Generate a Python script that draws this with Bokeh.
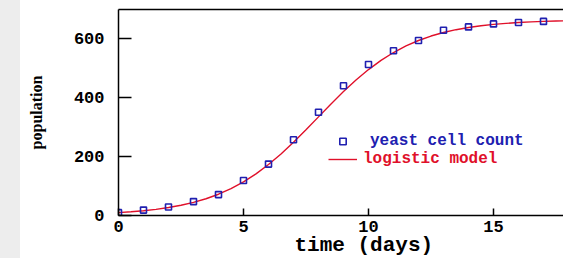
from bokeh.plotting import figure
from bokeh.models import (Range1d, FixedTicker, LinearAxis, Legend, LegendItem,
                          Title, Div)
from bokeh.layouts import row
from bokeh.embed import file_html
from bokeh.resources import INLINE

# ---- data ----
days = [0, 1, 2, 3, 4, 5, 6, 7, 8, 9, 10, 11, 12, 13, 14, 15, 16, 17]
yeast_counts = [9.6, 18.3, 29.0, 47.2, 71.1, 119.1, 174.6, 257.3, 350.7, 441.0,
                513.3, 559.7, 594.8, 629.4, 640.8, 651.1, 655.9, 659.6]
model_t = [0, 0.5, 1, 1.5, 2, 2.5, 3, 3.5, 4, 4.5, 5, 5.5, 6, 6.5, 7, 7.5, 8, 8.5,
           9, 9.5, 10, 10.5, 11, 11.5, 12, 12.5, 13, 13.5, 14, 14.5, 15, 15.5,
           16, 16.5, 17, 17.5, 18]
model_pop = [9.6, 12.5, 16.1, 20.9, 27.0, 34.7, 44.5, 56.9, 72.3, 91.2, 114.2,
             141.4, 173.2, 209.2, 248.9, 291.3, 335.1, 378.9, 421.0, 460.4,
             495.9, 527.1, 553.8, 576.3, 594.7, 609.8, 621.8, 631.4, 638.9,
             644.8, 649.3, 652.9, 655.7, 657.8, 659.5, 660.8, 661.7]
x_ticks = [0, 5, 10, 15]
y_ticks = [0, 200, 400, 600]

BLUE = "#2020b0"
RED = "#e0102a"
MONO = "Liberation Mono"

p = figure(width=543, height=258, output_backend="svg", toolbar_location=None,
           x_range=Range1d(0, 17.8), y_range=Range1d(0, 700),
           min_border_left=98, min_border_right=0, min_border_top=9,
           min_border_bottom=43, margin=0)
p.outline_line_color = None
p.grid.visible = False
p.background_fill_color = "white"
p.border_fill_color = "white"

line_r = p.line(model_t, model_pop, line_color=RED, line_width=1.4)
pts_r = p.scatter(days, yeast_counts, marker="square", size=6,
                  line_color=BLUE, fill_color=None, line_width=1.6)

# axes
xa = p.xaxis[0]
xa.ticker = FixedTicker(ticks=x_ticks)
xa.major_tick_in = 7
xa.major_tick_out = 0
xa.minor_tick_line_color = None
xa.axis_line_width = 1.5
xa.major_tick_line_width = 1.5
xa.major_label_text_font = MONO
xa.major_label_text_font_style = "bold"
xa.major_label_text_font_size = "17px"
xa.major_label_text_color = "black"
xa.major_label_standoff = 5

ya = p.yaxis[0]
ya.ticker = FixedTicker(ticks=y_ticks)
ya.major_tick_in = 13
ya.major_tick_out = 0
ya.minor_tick_line_color = None
ya.axis_line_width = 1.5
ya.major_tick_line_width = 1.5
ya.major_label_text_font = MONO
ya.major_label_text_font_style = "bold"
ya.major_label_text_font_size = "17px"
ya.major_label_text_color = "black"
ya.major_label_standoff = 14
ya.axis_label = "population"
ya.axis_label_text_font = "Liberation Serif"
ya.axis_label_text_font_style = "bold"
ya.axis_label_text_font_size = "16px"
ya.axis_label_text_color = "black"
ya.axis_label_standoff = 26

top = LinearAxis(ticker=FixedTicker(ticks=[]), axis_line_width=1.5,
                 major_tick_in=0, major_tick_out=0, minor_tick_line_color=None,
                 major_label_text_font_size="0px", major_label_standoff=0)
p.add_layout(top, "above")

xtitle = Title(text="time (days)", align="left", offset=176, standoff=-6,
               text_font=MONO, text_font_style="bold", text_font_size="21px",
               text_color="black")
p.add_layout(xtitle, "below")

leg1 = Legend(items=[LegendItem(label="yeast cell count", renderers=[pts_r])],
              location=(210, 65), label_text_color=BLUE, label_text_font=MONO,
              label_text_font_style="bold", label_text_font_size="16px",
              glyph_width=29, glyph_height=16, label_height=16,
              label_standoff=13, padding=0, margin=0, spacing=0,
              border_line_color=None, background_fill_alpha=0)
leg2 = Legend(items=[LegendItem(label="logistic model", renderers=[line_r])],
              location=(210, 47), label_text_color=RED, label_text_font=MONO,
              label_text_font_style="bold", label_text_font_size="16px",
              glyph_width=29, glyph_height=16, label_height=16,
              label_standoff=6, padding=0, margin=0, spacing=0,
              border_line_color=None, background_fill_alpha=0)
p.add_layout(leg1, "center")
p.add_layout(leg2, "center")

strip = Div(width=20, height=258, margin=0,
            styles={"background-color": "#ededed"})
layout = row(strip, p, margin=0, spacing=0)

open("out.html", "w").write(file_html(layout, INLINE))
